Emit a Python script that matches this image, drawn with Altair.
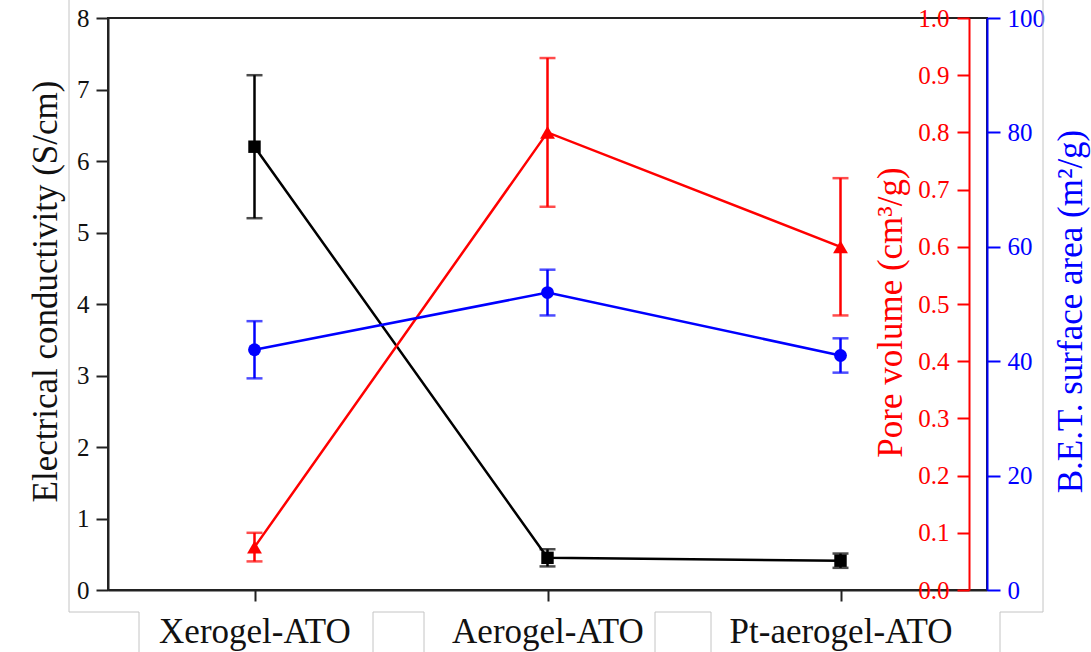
import altair as alt
import pandas as pd

# Sample names on the x axis
samples = ["Xerogel-ATO", "Aerogel-ATO", "Pt-aerogel-ATO"]

# Electrical conductivity (S/cm) with error
conductivity = [6.2, 0.45, 0.41]
conductivity_err = [1.0, 0.12, 0.10]

# Pore volume (cm3/g) with error
pore_volume = [0.075, 0.80, 0.60]
pore_volume_err = [0.025, 0.13, 0.12]

# BET surface area (m2/g) with error
bet_area = [42, 52, 41]
bet_area_err = [5, 4, 3]

# Axis tick values
cond_ticks = [0, 1, 2, 3, 4, 5, 6, 7, 8]
pore_ticks = [0.0, 0.1, 0.2, 0.3, 0.4, 0.5, 0.6, 0.7, 0.8, 0.9, 1.0]
bet_ticks = [0, 20, 40, 60, 80, 100]

FONT = "Liberation Serif"
AXIS_DARK = "#222222"
RED = "#FF0000"
BLUE = "#0000FF"
LINE_W = 2.5
TICK_FONT = 25

df = pd.DataFrame({
    "sample": samples,
    "cond": conductivity,
    "cond_lo": [v - e for v, e in zip(conductivity, conductivity_err)],
    "cond_hi": [v + e for v, e in zip(conductivity, conductivity_err)],
    "pore": pore_volume,
    "pore_lo": [v - e for v, e in zip(pore_volume, pore_volume_err)],
    "pore_hi": [v + e for v, e in zip(pore_volume, pore_volume_err)],
    "bet": bet_area,
    "bet_lo": [v - e for v, e in zip(bet_area, bet_area_err)],
    "bet_hi": [v + e for v, e in zip(bet_area, bet_area_err)],
})

PLOT_W = 879
PLOT_H = 572

x_enc = alt.X(
    "sample:N",
    sort=samples,
    scale=alt.Scale(type="point", padding=0.5),
    axis=alt.Axis(
        title=None, orient="bottom", labelAngle=0,
        tickSize=11, tickWidth=2, tickColor=AXIS_DARK,
        domainColor=AXIS_DARK, domainWidth=2,
        labelFont=FONT, labelFontSize=35, labelColor="#111111",
        labelBaseline="alphabetic", labelPadding=41, labelOverlap=False,
        labelLimit=0,
    ),
)


def series(field, color, shape, size, domain, axis):
    scale = alt.Scale(domain=domain, nice=False, zero=True)
    base = alt.Chart(df).encode(x=x_enc)
    y_val = alt.Y(f"{field}:Q", scale=scale, axis=axis)
    y_lo = alt.Y(f"{field}_lo:Q", scale=scale, axis=axis)
    y_hi = alt.Y(f"{field}_hi:Q", scale=scale, axis=axis)
    line = base.mark_line(color=color, strokeWidth=LINE_W).encode(y=y_val)
    bar = base.mark_rule(color=color, strokeWidth=LINE_W).encode(y=y_lo, y2=f"{field}_hi:Q")
    cap_lo = base.mark_tick(color=color, thickness=LINE_W, size=16, orient="horizontal").encode(y=y_lo)
    cap_hi = base.mark_tick(color=color, thickness=LINE_W, size=16, orient="horizontal").encode(y=y_hi)
    pts = base.mark_point(shape=shape, filled=True, size=size, color=color, opacity=1).encode(y=y_val)
    return alt.layer(line, bar, cap_lo, cap_hi, pts)


cond_axis = alt.Axis(
    orient="left", title="Electrical conductivity (S/cm)",
    titleFont=FONT, titleFontSize=35, titleFontWeight="normal", titleColor="#111111",
    titleAngle=270, titleBaseline="alphabetic", titleAlign="center",
    titleX=-52, titleY=273,
    values=cond_ticks, format="d",
    tickSize=12, tickWidth=2, tickColor=AXIS_DARK,
    domainColor=AXIS_DARK, domainWidth=2,
    labelFont=FONT, labelFontSize=TICK_FONT, labelColor="#111111", labelPadding=7,
    labelOverlap=False, grid=False,
)

pore_axis = alt.Axis(
    orient="left", offset=-861, title="Pore volume (cm³/g)",
    titleFont=FONT, titleFontSize=35, titleFontWeight="normal", titleColor=RED,
    titleAngle=270, titleBaseline="alphabetic", titleAlign="center",
    titleX=-68, titleY=294,
    values=pore_ticks, format=".1f",
    tickSize=12, tickWidth=2, tickColor=RED,
    domainColor=RED, domainWidth=2,
    labelFont=FONT, labelFontSize=TICK_FONT, labelColor=RED, labelPadding=8,
    labelOverlap=False, grid=False,
)

bet_axis = alt.Axis(
    orient="right", title="B.E.T. surface area (m²/g)",
    titleFont=FONT, titleFontSize=35, titleFontWeight="normal", titleColor=BLUE,
    titleAngle=270, titleBaseline="alphabetic", titleAlign="center",
    titleX=94, titleY=293,
    values=bet_ticks, format="d",
    tickSize=13, tickWidth=2, tickColor=BLUE,
    domainColor=BLUE, domainWidth=2,
    labelFont=FONT, labelFontSize=TICK_FONT, labelColor=BLUE, labelPadding=7,
    labelOverlap=False, grid=False,
)

cond_layer = series("cond", "#000000", "square", 155, [0, 8], cond_axis)
pore_layer = series("pore", RED, "triangle-up", 220, [0, 1], pore_axis)
bet_layer = series("bet", BLUE, "circle", 165, [0, 100], bet_axis)


# Light gray page frame around the figure and label cells
def frame_rule(x1, y1, x2, y2):
    return alt.Chart(alt.Data(values=[{"k": 0}])).mark_rule(
        color="#c4c4c4", strokeWidth=1
    ).encode(
        x=alt.value(x1), x2=alt.value(x2), y=alt.value(y1), y2=alt.value(y2)
    )


frame = [
    frame_rule(-39, -18, -39, 594),
    frame_rule(-39, 594, 31, 594),
    frame_rule(31, 594, 31, 634),
    frame_rule(265, 594, 316, 594),
    frame_rule(265, 594, 265, 634),
    frame_rule(316, 594, 316, 634),
    frame_rule(547, 594, 603, 594),
    frame_rule(547, 594, 547, 634),
    frame_rule(603, 594, 603, 634),
    frame_rule(892, 594, 892, 634),
    frame_rule(892, 594, 935, 594),
    frame_rule(935, -18, 935, 594),
]

chart = alt.layer(
    *frame, cond_layer, pore_layer, bet_layer
).resolve_scale(
    y="independent"
).properties(
    width=PLOT_W,
    height=PLOT_H,
    autosize=alt.AutoSizeParams(type="none"),
    padding={"left": 108, "top": 18, "right": 104, "bottom": 62},
    background="white",
).configure(
    font=FONT
).configure_axis(
    labelFont=FONT, titleFont=FONT
).configure_view(
    stroke=AXIS_DARK, strokeWidth=2
)

chart.save("out.html", embed_options={"renderer": "svg", "actions": False})
